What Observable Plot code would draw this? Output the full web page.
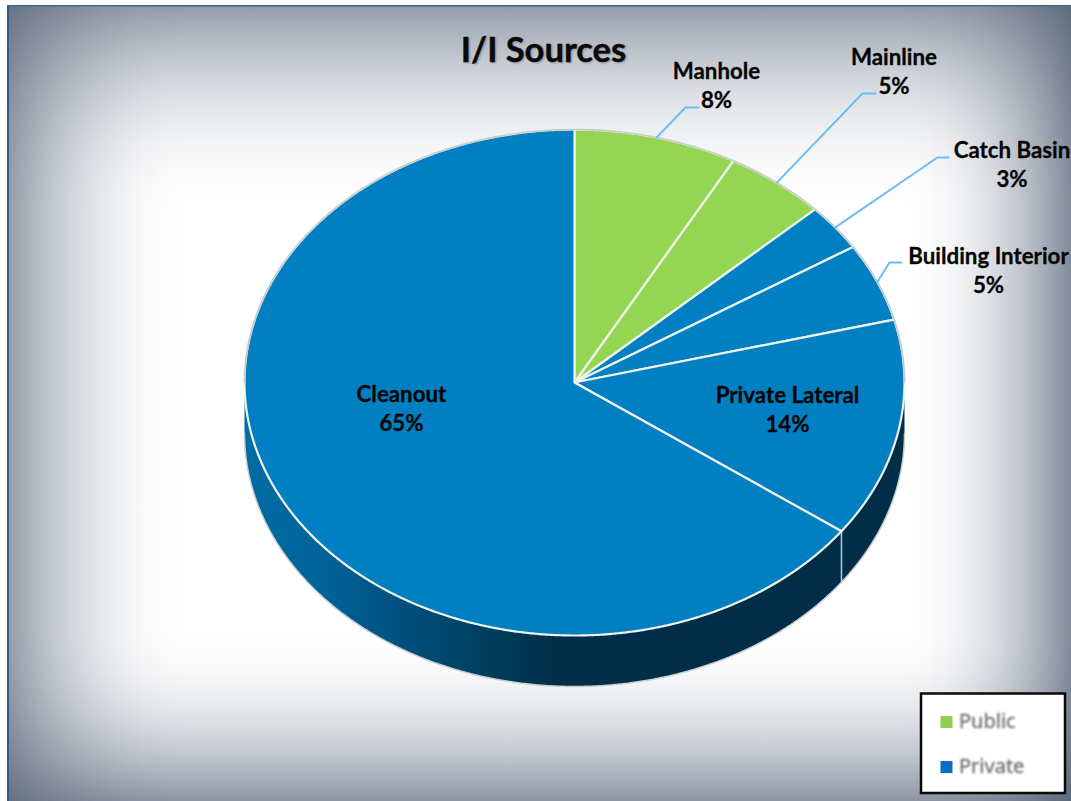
<!DOCTYPE html>
<html>
<head>
<meta charset="utf-8">
<title>I/I Sources</title>
<script src="https://cdn.jsdelivr.net/npm/d3@7"></script>
<script src="https://cdn.jsdelivr.net/npm/@observablehq/plot@0.6"></script>
<style>
  html, body { margin: 0; padding: 0; background: #fff; overflow: hidden; }
  svg { display: block; }
</style>
</head>
<body>
<div id="chart"></div>
<script>
// Sources of inflow and infiltration, clockwise from twelve o'clock
const sources = ["Manhole", "Mainline", "Catch Basin", "Building Interior", "Private Lateral", "Cleanout"];
const shares = [8, 5, 3, 5, 14, 65];
const owners = ["Public", "Public", "Private", "Private", "Private", "Private"];
const legendEntries = ["Public", "Private"];
const chartTitle = "I/I Sources";

const ownerColor = {Public: "#94d552", Private: "#0080c2"};
const legendColor = {Public: "#8fd14f", Private: "#0a6cc4"};

// Page and disc geometry
const W = 1071, H = 801;
const cx = 574, cy = 382, rx = 330, ry = 253, depth = 51;
const ux = (px) => (px - cx) / rx;
const uy = (py) => (py - cy) / ry;
const thickness = depth / ry;

// Where each callout text sits, and the elbow of its leader line
const labelPlace = [
  {x: 716, y: 84, elbow: [685, 107], end: [698, 107]},
  {x: 893.5, y: 69.5, elbow: [862, 93], end: [875, 93]},
  {x: 1011.5, y: 163, elbow: [937, 157], end: [948, 157]},
  {x: 988, y: 268.5, elbow: [889, 262], end: [901, 262]},
  {x: 787, y: 408},
  {x: 401, y: 406.5}
];

const total = d3.sum(shares);
const angleOf = (v) => (v / total) * 2 * Math.PI;
const rimPoint = (a, drop = 0) => ({x: Math.sin(a), y: -Math.cos(a) + drop});
const arcPoints = (a0, a1, drop = 0) => {
  const n = Math.max(2, Math.ceil(Math.abs(a1 - a0) / 0.005));
  return d3.range(n + 1).map((i) => rimPoint(a0 + ((a1 - a0) * i) / n, drop));
};

// Wedges of the top face
const cumulative = d3.cumsum(shares);
const wedges = sources.map((name, i) => {
  const a0 = angleOf(i ? cumulative[i - 1] : 0);
  const a1 = angleOf(cumulative[i]);
  return {
    name, owner: owners[i], share: shares[i], a0, a1, mid: (a0 + a1) / 2,
    points: [{x: 0, y: 0}, ...arcPoints(a0, a1), {x: 0, y: 0}]
  };
});

// The visible wall runs along the lower half of the rim
const wall = [
  ...arcPoints(Math.PI / 2, 1.5 * Math.PI),
  ...arcPoints(1.5 * Math.PI, Math.PI / 2, thickness)
];
wall.push(wall[0]);
const wallEdge = arcPoints(Math.PI / 2, 1.5 * Math.PI, thickness);
const upperRim = arcPoints(-Math.PI / 2, Math.PI / 2);

// The seam on the wall where the two lower wedges meet
const seamAngle = angleOf(cumulative[4]);
const seam = [rimPoint(seamAngle), rimPoint(seamAngle, thickness)];

// Leader lines start on the rim at each wedge's middle angle
const leaders = wedges.flatMap((w, i) => {
  const p = labelPlace[i];
  if (!p.elbow) return [];
  const s = rimPoint(w.mid);
  return [
    {k: w.name, ...s},
    {k: w.name, x: ux(p.elbow[0]), y: uy(p.elbow[1])},
    {k: w.name, x: ux(p.end[0]), y: uy(p.end[1])}
  ];
});

const labels = wedges.map((w, i) => ({
  text: `${w.name}\n${w.share}%`,
  x: ux(labelPlace[i].x),
  y: uy(labelPlace[i].y)
}));

// Gradients for the vignette and the shaded wall
const defs = () => {
  const d = d3.create("svg:defs");
  const grad = (id, x2, y2, stops) => {
    const g = d.append("linearGradient").attr("id", id)
      .attr("x1", 0).attr("y1", 0).attr("x2", x2).attr("y2", y2);
    for (const [o, c, a] of stops)
      g.append("stop").attr("offset", o).attr("stop-color", c).attr("stop-opacity", a);
  };
  const ink = "#46546a";
  // Eased falloff from an edge, so the pale centre has no hard corners
  const falloff = (from, to, peak) =>
    d3.range(13).map((i) => {
      const t = i / 12;
      return [from + (to - from) * t, ink, peak * (1 - t) * (1 - t)];
    });
  grad("vigLeft", 1, 0, falloff(0, 0.17, 0.58));
  grad("vigRight", 1, 0, falloff(1, 0.84, 0.68).reverse());
  grad("vigTop", 0, 1, falloff(0, 0.26, 0.58));
  grad("vigBottom", 0, 1, falloff(1, 0.78, 0.62).reverse());
  grad("wallShade", 1, 0, [
    [0, "#006ca4", 1], [0.12, "#00639a", 1], [0.24, "#004f7c", 1],
    [0.36, "#00405f", 1], [0.47, "#002e49", 1], [1, "#002e49", 1]
  ]);
  return d.node();
};

// Rectangles given in page pixels
const pageRect = (x1, y1, x2, y2, options) =>
  Plot.rect([{x1: ux(x1), x2: ux(x2), y1: uy(y1), y2: uy(y2)}],
    {x1: "x1", x2: "x2", y1: "y1", y2: "y2", ...options});

const font = "Lato, 'Noto Sans', sans-serif";

const plot = Plot.plot({
  width: W,
  height: H,
  margin: 0,
  style: {background: "#fff", fontFamily: font},
  x: {domain: [ux(0), ux(W)], range: [0, W], axis: null},
  y: {domain: [uy(0), uy(H)], range: [0, H], axis: null},
  marks: [
    defs,
    // Panel with darkened edges
    pageRect(8, 6, W, H, {fill: "url(#vigLeft)"}),
    pageRect(8, 6, W, H, {fill: "url(#vigRight)"}),
    pageRect(8, 6, W, H, {fill: "url(#vigTop)"}),
    pageRect(8, 6, W, H, {fill: "url(#vigBottom)"}),
    pageRect(7, 5, 9, H, {fill: "#2f5c82"}),
    pageRect(7, 5, W, 6.5, {fill: "#3f6a8c"}),

    // Disc wall
    Plot.line(wall, {x: "x", y: "y", fill: "url(#wallShade)", stroke: "none"}),
    Plot.line(wallEdge, {x: "x", y: "y", stroke: "#c9cdd0", strokeWidth: 1.5}),
    Plot.line(seam, {x: "x", y: "y", stroke: "#b9c7cf", strokeWidth: 1.5}),

    // Top face
    ...wedges.map((w) =>
      Plot.line(w.points, {
        x: "x", y: "y",
        fill: ownerColor[w.owner],
        stroke: "#eef4ea",
        strokeWidth: 2.2,
        strokeLinejoin: "round"
      })
    ),
    Plot.line(upperRim, {x: "x", y: "y", stroke: "#c8cacc", strokeWidth: 1.6}),

    // Leader lines
    Plot.line(leaders, {x: "x", y: "y", z: "k", stroke: "#6cbdf6", strokeWidth: 2}),

    // Title and callouts
    Plot.text([chartTitle], {
      x: () => ux(543), y: () => uy(50),
      text: (d) => d,
      fontFamily: font, fontWeight: 700, fontSize: 34.5, fill: "#8a8f96",
      dx: 1.5, dy: 1.5, imageFilter: "blur(1px)"
    }),
    Plot.text([chartTitle], {
      x: () => ux(543), y: () => uy(50),
      text: (d) => d,
      fontFamily: font, fontWeight: 700, fontSize: 34.5, fill: "#0a0a0a",
      stroke: "#0a0a0a", strokeWidth: 0.4
    }),
    Plot.text(labels, {
      x: "x", y: "y", text: "text",
      fontFamily: font, fontWeight: 700, fontSize: 22.3, lineHeight: 1.3, fill: "#050505",
      stroke: "#050505", strokeWidth: 0.3
    }),

    // Legend box
    pageRect(921, 693.5, 1065, 793, {fill: "#fff", stroke: "#0a0a0a", strokeWidth: 2.5}),
    ...legendEntries.map((name, i) =>
      pageRect(940.5, 716 + i * 45, 952.5, 728 + i * 45, {
        fill: legendColor[name], imageFilter: "blur(0.5px)"
      })
    ),
    Plot.text(legendEntries, {
      x: () => ux(958.5),
      y: (d, i) => uy(721 + i * 45),
      text: (d) => d,
      textAnchor: "start",
      fontFamily: "'Noto Sans', sans-serif", fontSize: 20, fill: "#6a6e72",
      stroke: "#6a6e72", strokeWidth: 0.3,
      imageFilter: "blur(0.8px)"
    })
  ]
});

document.getElementById("chart").append(plot);
</script>
</body>
</html>
